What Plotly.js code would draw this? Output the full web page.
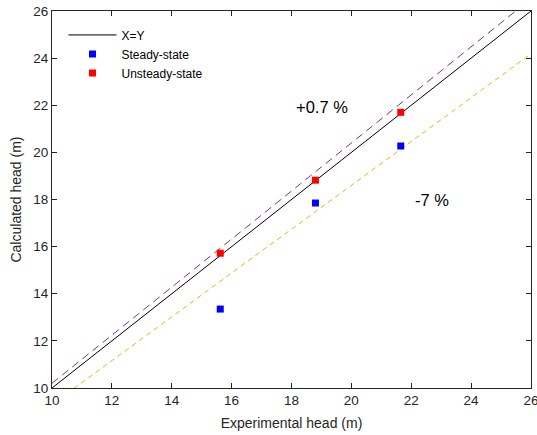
<!DOCTYPE html>
<html><head><meta charset="utf-8">
<script src="https://cdn.plot.ly/plotly-3.0.1.min.js"></script>
<style>html,body{margin:0;padding:0;background:#fff}#chart{width:537px;height:435px}</style>
</head><body><div id="chart"></div>
<script>
const experimental = [15.62, 18.80, 21.65];
const steadyState = [13.35, 17.85, 20.27];
const unsteadyState = [15.72, 18.82, 21.70];
const lineRange = [10, 26];
const upperFactor = 1.02;
const lowerFactor = 0.93;
const upperLabel = '+0.7 %';
const lowerLabel = '-7 %';

const upperY = lineRange.map(v => v * upperFactor);
const lowerY = lineRange.map(v => v * lowerFactor);

const traces = [
  {x: lineRange, y: lineRange, mode: 'lines', name: 'X=Y', line: {color: '#000', width: 1}},
  {x: lineRange, y: upperY, mode: 'lines', showlegend: false, line: {color: '#7E2F8E', width: 1, dash: '8px,5px'}},
  {x: lineRange, y: lowerY, mode: 'lines', showlegend: false, line: {color: '#EDB120', width: 1, dash: '5px,4px'}},
  {x: experimental, y: steadyState, mode: 'markers', name: 'Steady-state', marker: {symbol: 'square', color: '#0000FF', size: 7}},
  {x: experimental, y: unsteadyState, mode: 'markers', name: 'Unsteady-state', marker: {symbol: 'square', color: '#FF0000', size: 7}}
];

const fam = 'Liberation Sans, Arial, sans-serif';
const axisCommon = {
  range: [10, 26], dtick: 2, tick0: 10, showgrid: false, zeroline: false,
  showline: true, linecolor: '#262626', linewidth: 1, mirror: 'ticks',
  ticks: 'inside', ticklen: 5, tickcolor: '#262626', ticklabeloverflow: 'allow',
  tickfont: {family: fam, size: 13.5, color: '#262626'}
};

const layout = {
  width: 537, height: 435,
  margin: {l: 52, r: 6, t: 11, b: 47},
  paper_bgcolor: '#fff', plot_bgcolor: '#fff',
  showlegend: true,
  legend: {x: 0.024, y: 0.975, xanchor: 'left', yanchor: 'top', bgcolor: 'rgba(0,0,0,0)',
    itemwidth: 48,
    font: {family: fam, size: 12, color: '#000'}, tracegroupgap: 0},
  xaxis: Object.assign({}, axisCommon, {title: {text: 'Experimental head (m)', standoff: 10,
    font: {family: fam, size: 14, color: '#262626'}}}),
  yaxis: Object.assign({}, axisCommon, {title: {text: 'Calculated head (m)', standoff: 8,
    font: {family: fam, size: 14, color: '#262626'}}}),
  annotations: [
    {x: 19.03, y: 21.93, text: upperLabel, showarrow: false, font: {family: fam, size: 16.5, color: '#000'}},
    {x: 22.68, y: 17.98, text: lowerLabel, showarrow: false, font: {family: fam, size: 16.5, color: '#000'}}
  ]
};

Plotly.newPlot('chart', traces, layout, {displayModeBar: false, staticPlot: true});
</script></body></html>
